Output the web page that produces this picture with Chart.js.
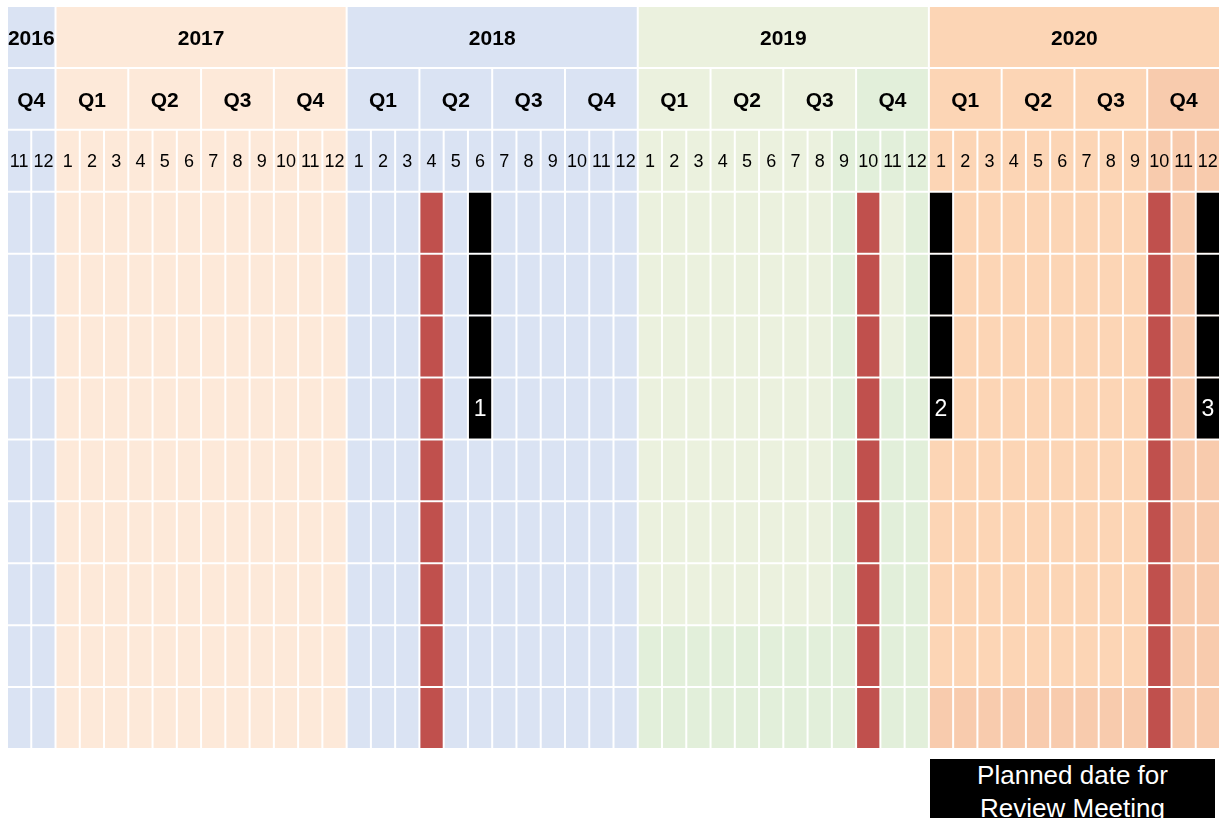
<!DOCTYPE html>
<html>
<head>
<meta charset="utf-8">
<title>Review timeline</title>
<script src="https://cdn.jsdelivr.net/npm/chart.js@4.4.1/dist/chart.umd.min.js"></script>
<style>
    html, body { margin: 0; padding: 0; background: #fff; overflow: hidden; }
    #wrap { position: relative; width: 1220px; height: 818px; }
    #timeline { position: absolute; left: 0; top: 0; }
    .note {
        position: absolute; left: 930px; top: 759px; width: 285px; height: 70px;
        background: #000; color: #fff; text-align: center;
        font: 26px "Liberation Sans", Arial, sans-serif; line-height: 33px;
    }
</style>
</head>
<body>
<div id="wrap">
    <canvas id="timeline" width="1220" height="818"></canvas>
    <div class="note">Planned date for<br>Review Meeting</div>
</div>
<script>
// header rows: years, quarters, months shown in the timeline
var yearLabels = ['2016', '2017', '2018', '2019', '2020'];
var yearMonthCounts = [2, 12, 12, 12, 12];
var quarterLabels = ['Q4', 'Q1', 'Q2', 'Q3', 'Q4', 'Q1', 'Q2', 'Q3', 'Q4',
                     'Q1', 'Q2', 'Q3', 'Q4', 'Q1', 'Q2', 'Q3', 'Q4'];
var quarterMonthCounts = [2, 3, 3, 3, 3, 3, 3, 3, 3, 3, 3, 3, 3, 3, 3, 3, 3];
var monthLabels = [11, 12,
    1, 2, 3, 4, 5, 6, 7, 8, 9, 10, 11, 12,
    1, 2, 3, 4, 5, 6, 7, 8, 9, 10, 11, 12,
    1, 2, 3, 4, 5, 6, 7, 8, 9, 10, 11, 12,
    1, 2, 3, 4, 5, 6, 7, 8, 9, 10, 11, 12];
var rowLabels = ['year', 'quarter', 'month', 'r1', 'r2', 'r3', 'r4', 'r5', 'r6', 'r7', 'r8', 'r9'];

// marks
var reviewMonths = ['2018-4', '2019-10', '2020-10'];   // red columns, all rows
var plannedMonths = ['2018-6', '2020-1', '2020-12'];   // black columns
var plannedLabels = ['1', '2', '3'];
var plannedRowCount = 4;

// colours
var palette = {
    '2016': '#DAE3F3', '2017': '#FDE9D9', '2018': '#DAE3F3', '2019': '#EBF1DE', '2020': '#FCD5B5',
    green2: '#E2EFDA', peach2: '#F8CBAD', review: '#C0504D', planned: '#000000'
};

// one entry per month column
var columns = [];
var yearStarts = [];
(function () {
    var c = 0;
    yearLabels.forEach(function (y, i) {
        yearStarts.push(c);
        for (var k = 0; k < yearMonthCounts[i]; k++) {
            columns.push({ year: y, month: monthLabels[c] });
            c++;
        }
    });
})();
var quarterStarts = [];
quarterMonthCounts.reduce(function (s, n) { quarterStarts.push(s); return s + n; }, 0);

function colOf(key) {
    return columns.findIndex(function (c) { return c.year + '-' + c.month === key; });
}

// row: 0 year, 1 quarter, 2 month, 3.. body
function cellColor(col, row) {
    var c = columns[col];
    var body = row - 3;
    if (c.year === '2019' && row > 0) {
        if (c.month === 9 || c.month === 10 || c.month === 12 ||
            (c.month === 11 && (body < 0 || body >= 3)) || body >= 7) {
            return palette.green2;
        }
    }
    if (c.year === '2020' && row > 0 && (c.month >= 10 || body === 8)) return palette.peach2;
    return palette[c.year];
}

var yearData = yearLabels.map(function (lab, i) {
    return { y: 'year', x: [yearStarts[i], yearStarts[i] + yearMonthCounts[i]], col: yearStarts[i], row: 0 };
});
var quarterData = quarterLabels.map(function (lab, i) {
    return { y: 'quarter', x: [quarterStarts[i], quarterStarts[i] + quarterMonthCounts[i]], col: quarterStarts[i], row: 1 };
});
var cellData = [];
for (var r = 2; r < rowLabels.length; r++) {
    for (var c = 0; c < columns.length; c++) {
        cellData.push({ y: rowLabels[r], x: [c, c + 1], col: c, row: r });
    }
}
var reviewData = [];
reviewMonths.forEach(function (m) {
    var c = colOf(m);
    for (var r = 3; r < rowLabels.length; r++) reviewData.push({ y: rowLabels[r], x: [c, c + 1] });
});
var plannedData = [];
plannedMonths.forEach(function (m) {
    var c = colOf(m);
    for (var r = 3; r < 3 + plannedRowCount; r++) plannedData.push({ y: rowLabels[r], x: [c, c + 1] });
});

var fontFamily = '"Liberation Sans", Arial, sans-serif';
Chart.defaults.font.family = fontFamily;

function byCell(ctx) {
    return cellColor(ctx.raw.col, ctx.raw.row);
}

// texts of the header rows and the numbers of the planned meetings
var gridText = {
    id: 'gridText',
    afterDatasetsDraw: function (chart) {
        var ctx = chart.ctx;
        var xs = chart.scales.x, ys = chart.scales.y;
        ctx.save();
        ctx.textAlign = 'center';
        ctx.textBaseline = 'middle';
        ctx.fillStyle = '#000';
        ctx.font = 'bold 21px ' + fontFamily;
        yearLabels.forEach(function (lab, i) {
            var mid = yearStarts[i] + yearMonthCounts[i] / 2;
            ctx.fillText(lab, xs.getPixelForValue(mid), ys.getPixelForValue('year') + 2);
        });
        quarterLabels.forEach(function (lab, i) {
            var mid = quarterStarts[i] + quarterMonthCounts[i] / 2;
            ctx.fillText(lab, xs.getPixelForValue(mid), ys.getPixelForValue('quarter') + 2);
        });
        ctx.font = '18px ' + fontFamily;
        monthLabels.forEach(function (lab, i) {
            ctx.fillText(String(lab), xs.getPixelForValue(i + 0.5), ys.getPixelForValue('month') + 1);
        });
        ctx.fillStyle = '#fff';
        ctx.font = '23px ' + fontFamily;
        plannedMonths.forEach(function (m, i) {
            var c = colOf(m);
            ctx.fillText(plannedLabels[i], xs.getPixelForValue(c + 0.5), ys.getPixelForValue(rowLabels[2 + plannedRowCount]) + 1);
        });
        ctx.restore();
    }
};

var ctx = document.getElementById('timeline').getContext('2d');
var timeline = new Chart(ctx, {
    type: 'bar',
    data: {
        labels: rowLabels,
        datasets: [
            { label: 'Planned', data: plannedData, backgroundColor: palette.planned, order: 0 },
            { label: 'Review', data: reviewData, backgroundColor: palette.review, order: 1 },
            { label: 'Years', data: yearData, backgroundColor: byCell, order: 2 },
            { label: 'Quarters', data: quarterData, backgroundColor: byCell, order: 2 },
            { label: 'Cells', data: cellData, backgroundColor: byCell, order: 3 }
        ]
    },
    options: {
        indexAxis: 'y',
        responsive: false,
        animation: false,
        layout: { padding: { left: 7, right: 0, top: 6, bottom: 69 } },
        datasets: {
            bar: {
                grouped: false,
                barPercentage: 1,
                categoryPercentage: 1,
                borderColor: '#ffffff',
                borderWidth: 1,
                borderSkipped: false,
                inflateAmount: 0
            }
        },
        scales: {
            x: { type: 'linear', min: 0, max: columns.length, display: false },
            y: { type: 'category', display: false }
        },
        plugins: {
            legend: { display: false },
            tooltip: { enabled: false }
        }
    },
    plugins: [gridText]
});
</script>
</body>
</html>
